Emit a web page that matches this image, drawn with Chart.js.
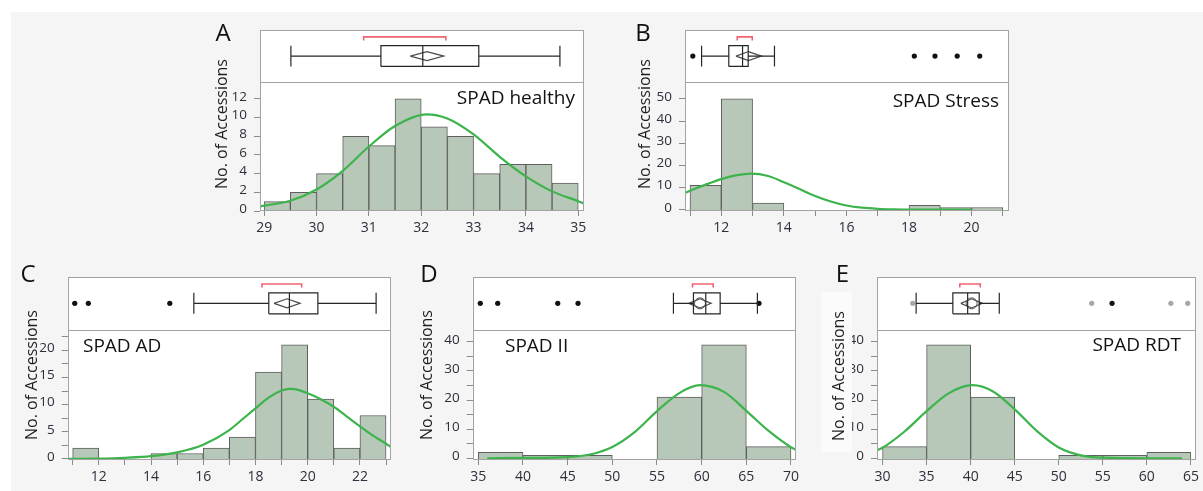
<!DOCTYPE html>
<html>
<head>
<meta charset="utf-8">
<title>SPAD distributions</title>
<script src="https://cdn.jsdelivr.net/npm/chart.js@4.4.1/dist/chart.umd.min.js"></script>
<style>
  body { margin: 0; background: #ffffff; }
  #page { position: relative; width: 1203px; height: 491px; overflow: hidden; }
  #shade { position: absolute; left: 11px; top: 12px; width: 1192px; height: 479px; background: #f5f5f5; }
  canvas { position: absolute; }
</style>
</head>
<body>
<div id="page">
  <div id="shade"></div>
  <canvas id="chartA"></canvas>
  <canvas id="chartB"></canvas>
  <canvas id="chartC"></canvas>
  <canvas id="chartD"></canvas>
  <canvas id="chartE"></canvas>
</div>
<script>
// A - SPAD healthy
const aBinMid = [29.25, 29.75, 30.25, 30.75, 31.25, 31.75, 32.25, 32.75, 33.25, 33.75, 34.25, 34.75];
const aCounts = [1, 2, 4, 8, 7, 12, 9, 8, 4, 5, 5, 3];
const aCurveX = [28.92, 29.5, 30, 30.5, 31, 31.5, 32.1, 32.5, 33, 33.5, 34, 34.5, 35, 35.11];
const aCurveY = [0.5, 1.1, 2.3, 4.3, 6.9, 9.1, 10.35, 9.9, 8.2, 5.8, 3.7, 2.1, 1.05, 0.8];
const aBox = [29.51, 31.23, 32.03, 33.10, 34.65];   // whisker lo, q1, median, q3, whisker hi
const aMean = [31.79, 32.11, 32.43];                // ci lo, mean, ci hi
const aShortHalf = [30.90, 32.47];
const aOutliers = [];
const aXTicks = [29, 30, 31, 32, 33, 34, 35];
const aYTicks = [0, 2, 4, 6, 8, 10, 12];

// B - SPAD Stress
const bBinMid = [11.5, 12.5, 13.5, 14.5, 15.5, 16.5, 17.5, 18.5, 19.5, 20.5];
const bCounts = [11, 50, 3, null, null, null, null, 2, 1, 1];
const bCurveX = [10.84, 11, 11.5, 12, 12.5, 12.95, 13.5, 14, 14.5, 15, 15.5, 16, 16.5, 17, 17.5, 18, 19, 20];
const bCurveY = [7.6, 8.5, 11.3, 13.8, 15.6, 16.3, 15.2, 12.4, 9.3, 6.2, 3.7, 1.9, 0.9, 0.4, 0.15, 0.05, 0, 0];
const bBox = [11.37, 12.24, 12.68, 12.86, 13.70];
const bMean = [12.47, 12.87, 13.28];
const bShortHalf = [12.51, 12.99];
const bOutliers = [11.09, 18.17, 18.83, 19.54, 20.26];
const bXTicks = [11, 12, 13, 14, 15, 16, 17, 18, 19, 20, 21];
const bXLabels = [12, 14, 16, 18, 20];
const bYTicks = [0, 10, 20, 30, 40, 50];

// C - SPAD AD
const cBinMid = [11.5, 12.5, 13.5, 14.5, 15.5, 16.5, 17.5, 18.5, 19.5, 20.5, 21.5, 22.5];
const cCounts = [2, null, null, 1, 1, 2, 4, 16, 21, 11, 2, 8];
const cCurveX = [10.81, 12, 13, 14, 15, 16, 17, 17.5, 18, 18.5, 19, 19.3, 19.5, 20, 20.5, 21, 21.5, 22, 22.5, 23, 23.19];
const cCurveY = [0, 0.05, 0.2, 0.5, 1.2, 2.6, 5.3, 7.3, 9.3, 11.3, 12.6, 12.9, 12.85, 12.1, 11.0, 9.6, 7.8, 6.0, 4.3, 2.8, 2.2];
const cBox = [15.64, 18.51, 19.30, 20.39, 22.62];
const cMean = [18.71, 19.21, 19.71];
const cShortHalf = [18.25, 19.77];
const cOutliers = [11.08, 11.60, 14.72];
const cXTicks = [11, 12, 13, 14, 15, 16, 17, 18, 19, 20, 21, 22, 23];
const cXLabels = [12, 14, 16, 18, 20, 22];
const cYTicks = [0, 2.5, 5, 7.5, 10, 12.5, 15, 17.5, 20, 22.5];
const cYLabels = [0, 5, 10, 15, 20];

// D - SPAD II
const dBinMid = [37.5, 42.5, 47.5, 52.5, 57.5, 62.5, 67.5];
const dCounts = [2, 1, 1, null, 21, 39, 4];
const dCurveX = [36, 40, 45, 47.5, 50, 52.5, 55, 57.5, 59.8, 62.5, 65, 67.5, 70, 70.56];
const dCurveY = [0, 0.1, 0.4, 1.3, 3.9, 9.0, 16.2, 22.4, 25.1, 22.8, 16.3, 9.4, 3.8, 2.9];
const dBox = [56.84, 59.08, 60.46, 62.07, 66.24];
const dMean = [58.56, 59.81, 61.06];
const dShortHalf = [58.97, 61.29];
const dOutliers = [35.22, 37.17, 43.89, 46.16, 66.42];
const dXTicks = [35, 40, 45, 50, 55, 60, 65, 70];
const dYTicks = [0, 5, 10, 15, 20, 25, 30, 35, 40];
const dYLabels = [0, 10, 20, 30, 40];

// E - SPAD RDT
const eBinMid = [32.5, 37.5, 42.5, 47.5, 52.5, 57.5, 62.5];
const eCounts = [4, 39, 21, null, 1, 1, 2];
const eCurveX = [29.37, 30, 32.5, 35, 37.5, 40.2, 42.5, 45, 47.5, 50, 52.5, 55, 60, 64];
const eCurveY = [2.7, 3.6, 9.2, 16.2, 22.3, 25.1, 23.0, 16.8, 9.4, 3.7, 1.0, 0.2, 0, 0];
const eBox = [33.81, 37.98, 39.66, 40.97, 43.25];
const eMean = [38.88, 40.11, 41.34];
const eShortHalf = [38.77, 41.09];
const eOutliers = [56.05];
const eFaded = [33.43, 53.74, 62.73, 64.64];
const eXTicks = [30, 35, 40, 45, 50, 55, 60, 65];
const eYTicks = [0, 5, 10, 15, 20, 25, 30, 35, 40];
const eYLabels = [0, 10, 20, 30, 40];

const panels = [
  { id: 'chartA', letter: 'A', name: 'SPAD healthy', nameAlign: 'right', nameAt: [575, 104],
    bins: aBinMid, counts: aCounts, curveX: aCurveX, curveY: aCurveY, box: aBox, mean: aMean,
    shortHalf: aShortHalf, outliers: aOutliers, faded: [], circle: false,
    xTicks: aXTicks, xLabels: aXTicks, yTicks: aYTicks, yLabels: aYTicks,
    xMin: 28.92, xMax: 35.11, yMin: 0, yMax: 13.8,
    pos: { left: 200, top: 15, w: 400, h: 225, plotL: 260, plotT: 23, plotR: 584, plotB: 211 },
    letterAt: [223, 34], yTitleAt: [222.5, 124] },
  { id: 'chartB', letter: 'B', name: 'SPAD Stress', nameAlign: 'right', nameAt: [999, 107],
    bins: bBinMid, counts: bCounts, curveX: bCurveX, curveY: bCurveY, box: bBox, mean: bMean,
    shortHalf: bShortHalf, outliers: bOutliers, faded: [], circle: false,
    xTicks: bXTicks, xLabels: bXLabels, yTicks: bYTicks, yLabels: bYTicks,
    xMin: 10.84, xMax: 21.18, yMin: -0.6, yMax: 57.6,
    pos: { left: 625, top: 15, w: 400, h: 225, plotL: 685, plotT: 23, plotR: 1008.5, plotB: 211 },
    letterAt: [643, 34], yTitleAt: [645, 124] },
  { id: 'chartC', letter: 'C', name: 'SPAD AD', nameAlign: 'left', nameAt: [83, 352],
    bins: cBinMid, counts: cCounts, curveX: cCurveX, curveY: cCurveY, box: cBox, mean: cMean,
    shortHalf: cShortHalf, outliers: cOutliers, faded: [], circle: false,
    xTicks: cXTicks, xLabels: cXLabels, yTicks: cYTicks, yLabels: cYLabels,
    xMin: 10.81, xMax: 23.19, yMin: -0.2, yMax: 23.8,
    pos: { left: 8, top: 262, w: 395, h: 229, plotL: 67.7, plotT: 272, plotR: 391, plotB: 460 },
    letterAt: [28, 275], yTitleAt: [32.5, 375] },
  { id: 'chartD', letter: 'D', name: 'SPAD II', nameAlign: 'left', nameAt: [505, 352],
    bins: dBinMid, counts: dCounts, curveX: dCurveX, curveY: dCurveY, box: dBox, mean: dMean,
    shortHalf: dShortHalf, outliers: dOutliers, faded: [], circle: true,
    xTicks: dXTicks, xLabels: dXTicks, yTicks: dYTicks, yLabels: dYLabels,
    xMin: 34.37, xMax: 70.56, yMin: -0.6, yMax: 44.2,
    pos: { left: 413, top: 262, w: 395, h: 229, plotL: 472.7, plotT: 272, plotR: 796, plotB: 460 },
    letterAt: [429, 275], yTitleAt: [427.5, 375] },
  { id: 'chartE', letter: 'E', name: 'SPAD RDT', nameAlign: 'right', nameAt: [1181, 351],
    bins: eBinMid, counts: eCounts, curveX: eCurveX, curveY: eCurveY, box: eBox, mean: eMean,
    shortHalf: eShortHalf, outliers: eOutliers, faded: eFaded, circle: true,
    xTicks: eXTicks, xLabels: eXTicks, yTicks: eYTicks, yLabels: eYLabels,
    xMin: 29.37, xMax: 65.56, yMin: -0.6, yMax: 44.2,
    pos: { left: 817, top: 262, w: 386, h: 229, plotL: 877, plotT: 272, plotR: 1200.3, plotB: 460 },
    letterAt: [842.5, 275], yTitleAt: [839, 376], cover: [821, 292, 31, 160] }
];

Chart.defaults.font.family = '"Open Sans", sans-serif';

const FRAME = '#a3a3a3';
const TICK_TEXT = '#2e2e3c';

// box plot outline: whiskers, caps, box, median (gaps split the path)
function boxPath(b) {
  const [lo, q1, med, q3, hi] = b;
  const c = 0.2;
  const gap = { x: lo, y: null };
  return [
    { x: lo, y: 0.5 }, { x: q1, y: 0.5 }, gap,
    { x: q3, y: 0.5 }, { x: hi, y: 0.5 }, gap,
    { x: lo, y: 0.5 - c }, { x: lo, y: 0.5 + c }, gap,
    { x: hi, y: 0.5 - c }, { x: hi, y: 0.5 + c }, gap,
    { x: q1, y: 0.5 - c }, { x: q3, y: 0.5 - c }, { x: q3, y: 0.5 + c }, { x: q1, y: 0.5 + c }, { x: q1, y: 0.5 - c }, gap,
    { x: med, y: 0.5 - c }, { x: med, y: 0.5 + c }
  ];
}

function diamondPath(m) {
  const d = 0.087;
  return [
    { x: m[0], y: 0.5 }, { x: m[1], y: 0.5 + d }, { x: m[2], y: 0.5 },
    { x: m[1], y: 0.5 - d }, { x: m[0], y: 0.5 }
  ];
}

function bracketPath(s) {
  return [{ x: s[0], y: 0.8 }, { x: s[0], y: 0.87 }, { x: s[1], y: 0.87 }, { x: s[1], y: 0.8 }];
}

function makeDecor(p) {
  const ox = p.pos.left, oy = p.pos.top;
  return {
    id: 'decor' + p.letter,
    beforeDraw(chart) {
      const a = chart.chartArea, ctx = chart.ctx;
      ctx.save();
      ctx.fillStyle = '#ffffff';
      ctx.fillRect(a.left, a.top, a.right - a.left, a.bottom - a.top);
      ctx.restore();
    },
    afterDraw(chart) {
      const a = chart.chartArea, ctx = chart.ctx;
      ctx.save();
      ctx.strokeStyle = FRAME;
      ctx.lineWidth = 1;
      const l = Math.round(a.left) + 0.5, t = Math.round(a.top) + 0.5;
      const r = Math.round(a.right) - 0.5, btm = Math.round(a.bottom) - 0.5;
      ctx.strokeRect(l, t, r - l, btm - t);
      const yDiv = Math.round(chart.scales.yb.bottom) + 0.5;
      ctx.beginPath();
      ctx.moveTo(l, yDiv);
      ctx.lineTo(r, yDiv);
      ctx.stroke();

      if (p.cover) {
        ctx.fillStyle = '#fbfbfb';
        ctx.fillRect(p.cover[0] - ox, p.cover[1] - oy, p.cover[2], p.cover[3]);
      }

      ctx.fillStyle = '#111111';
      ctx.font = '24px "Open Sans"';
      ctx.textAlign = 'center';
      ctx.textBaseline = 'middle';
      ctx.fillText(p.letter, p.letterAt[0] - ox, p.letterAt[1] - oy);

      ctx.font = '19px "Open Sans"';
      ctx.textAlign = p.nameAlign;
      ctx.textBaseline = 'alphabetic';
      ctx.fillText(p.name, p.nameAt[0] - ox, p.nameAt[1] - oy);

      ctx.save();
      ctx.font = '16px "Open Sans"';
      ctx.textAlign = 'center';
      ctx.textBaseline = 'middle';
      ctx.fillStyle = '#1e1e1e';
      ctx.translate(p.yTitleAt[0] - ox, p.yTitleAt[1] - oy);
      ctx.rotate(-Math.PI / 2);
      ctx.fillText('No. of Accessions', 0, 0);
      ctx.restore();
      ctx.restore();
    }
  };
}

function buildPanel(p) {
  const canvas = document.getElementById(p.id);
  const pos = p.pos;
  canvas.width = pos.w;
  canvas.height = pos.h;
  canvas.style.left = pos.left + 'px';
  canvas.style.top = pos.top + 'px';
  const yw = pos.plotL - pos.left;
  const xh = pos.top + pos.h - pos.plotB;

  const datasets = [
    {
      type: 'line', label: 'normal', order: 1,
      data: p.curveX.map((x, i) => ({ x: x, y: p.curveY[i] })),
      borderColor: '#3cb44b', borderWidth: 2.2, pointRadius: 0,
      cubicInterpolationMode: 'monotone', fill: false
    },
    {
      type: 'bar', label: 'count', order: 2,
      data: p.bins.map((x, i) => ({ x: x, y: p.counts[i] })),
      backgroundColor: '#b8c8b8', borderColor: '#5e5e5e', borderWidth: 1,
      barPercentage: 1, categoryPercentage: 1, base: p.yMin
    },
    {
      type: 'line', label: 'box', yAxisID: 'yb', order: 0,
      data: boxPath(p.box), borderColor: '#262626', borderWidth: 1.2, pointRadius: 0, tension: 0
    },
    {
      type: 'line', label: 'mean', yAxisID: 'yb', order: 0,
      data: diamondPath(p.mean), borderColor: '#4a4a4a', borderWidth: 1.2, pointRadius: 0, tension: 0
    },
    {
      type: 'line', label: 'shortest half', yAxisID: 'yb', order: 0,
      data: bracketPath(p.shortHalf), borderColor: '#f06472', borderWidth: 1.6, pointRadius: 0, tension: 0
    },
    {
      type: 'line', label: 'outliers', yAxisID: 'yb', order: 0, showLine: false,
      data: p.outliers.map(x => ({ x: x, y: 0.5 })),
      pointRadius: 2.6, pointBackgroundColor: '#111111', pointBorderWidth: 0
    },
    {
      type: 'line', label: 'faded outliers', yAxisID: 'yb', order: 0, showLine: false,
      data: p.faded.map(x => ({ x: x, y: 0.5 })),
      pointRadius: 2.6, pointBackgroundColor: '#a8a8a8', pointBorderWidth: 0
    }
  ];
  if (p.circle) {
    datasets.push({
      type: 'line', label: 'mean circle', yAxisID: 'yb', order: 0, showLine: false,
      data: [{ x: p.mean[1], y: 0.5 }],
      pointRadius: 5.5, pointBackgroundColor: 'rgba(0,0,0,0)', pointBorderColor: '#555555', pointBorderWidth: 1
    });
  }

  return new Chart(canvas, {
    type: 'bar',
    data: { datasets: datasets },
    options: {
      responsive: false,
      animation: false,
      events: [],
      layout: { padding: { left: 0, top: pos.plotT - pos.top, right: pos.left + pos.w - pos.plotR, bottom: 0 } },
      plugins: { legend: { display: false }, tooltip: { enabled: false } },
      scales: {
        x: {
          type: 'linear', min: p.xMin, max: p.xMax, offset: false,
          afterBuildTicks: s => { s.ticks = p.xTicks.map(v => ({ value: v })); },
          afterFit: s => { s.height = xh; },
          grid: { display: true, offset: false, drawOnChartArea: false, drawTicks: true, tickLength: 5, color: '#8a8a8a' },
          border: { display: false },
          ticks: {
            autoSkip: false, maxRotation: 0, padding: 4, color: TICK_TEXT, font: { size: 14 },
            callback: v => (p.xLabels.includes(v) ? String(v) : '')
          }
        },
        y: {
          type: 'linear', position: 'left', stack: 'p', stackWeight: 134, weight: 0,
          min: p.yMin, max: p.yMax,
          afterBuildTicks: s => { s.ticks = p.yTicks.map(v => ({ value: v })); },
          afterFit: s => { s.width = yw; },
          grid: { display: true, drawOnChartArea: false, drawTicks: true, tickLength: 6, color: '#8a8a8a' },
          border: { display: false },
          ticks: {
            autoSkip: false, padding: 7, labelOffset: -2, color: TICK_TEXT, font: { size: 13.5 },
            callback: v => (p.yLabels.includes(v) ? String(v) : '')
          }
        },
        yb: {
          type: 'linear', position: 'left', stack: 'p', stackWeight: 54, weight: 1,
          min: 0, max: 1,
          afterBuildTicks: s => { s.ticks = []; },
          afterFit: s => { s.width = yw; },
          grid: { display: false },
          border: { display: false },
          ticks: { display: false }
        }
      }
    },
    plugins: [makeDecor(p)]
  });
}

panels.forEach(buildPanel);
</script>
</body>
</html>
